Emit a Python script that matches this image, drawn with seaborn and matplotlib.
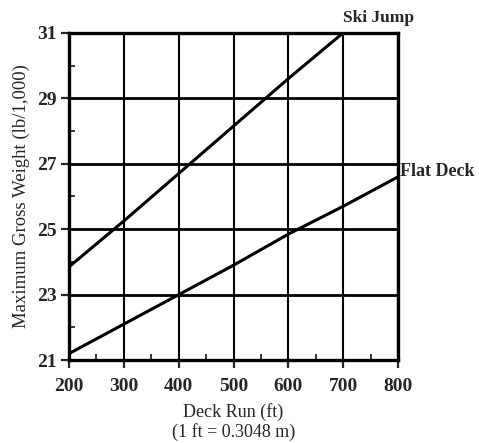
import numpy as np
import pandas as pd
import seaborn as sns
import matplotlib.pyplot as plt
from matplotlib.ticker import MultipleLocator

deck_run = [200, 300, 400, 500, 600, 700, 800]
ski_jump = [23.85, 25.25, 26.7, 28.15, 29.6, 31.0, np.nan]
flat_deck = [21.2, 22.1, 23.0, 23.9, 24.85, 25.7, 26.6]

df = pd.DataFrame({"run": deck_run * 2,
                   "weight": ski_jump + flat_deck,
                   "deck": ["Ski Jump"] * 7 + ["Flat Deck"] * 7}).dropna()

sns.set_style("white")
plt.rcParams['font.family'] = ['Liberation Serif', 'DejaVu Serif']

fig = plt.figure(figsize=(4.79, 4.43), dpi=100)
ax = fig.add_axes([0.144, 0.187, 0.687, 0.739])

sns.lineplot(data=df, x="run", y="weight", hue="deck", palette=["black", "black"],
             linewidth=2.2, legend=False, ax=ax)

ax.set_xlim(200, 800)
ax.set_ylim(21, 31)
ax.set_xticks(range(200, 801, 100))
ax.set_yticks(range(21, 32, 2))
ax.xaxis.set_minor_locator(MultipleLocator(50))
ax.yaxis.set_minor_locator(MultipleLocator(1))
ax.grid(True, which="major", axis="y", color="black", linewidth=2)
ax.grid(True, which="major", axis="x", color="black", linewidth=1.5)
for s in ax.spines.values():
    s.set_linewidth(2.4)
    s.set_color("black")
ax.tick_params(which="major", direction="out", length=6, width=1.6, labelsize=14, pad=3)
ax.tick_params(axis="x", which="major", pad=7)
ax.tick_params(which="minor", direction="in", length=4, width=1.3,
               bottom=True, left=True)
ax.tick_params(which="major", bottom=True, left=True)
for lbl in ax.get_xticklabels() + ax.get_yticklabels():
    lbl.set_fontweight("bold")

ax.set_xlabel("Deck Run (ft)\n(1 ft = 0.3048 m)", fontsize=13, linespacing=1.1, labelpad=6)
ax.set_ylabel("Maximum Gross Weight (lb/1,000)", fontsize=13.5, labelpad=5)

ax.text(700, 31.2, "Ski Jump", fontsize=12.5, fontweight="bold", ha="left", va="bottom")
ax.text(804, 26.75, "Flat Deck", fontsize=13, fontweight="bold", ha="left", va="center")

fig.savefig("out.png", dpi=100)
